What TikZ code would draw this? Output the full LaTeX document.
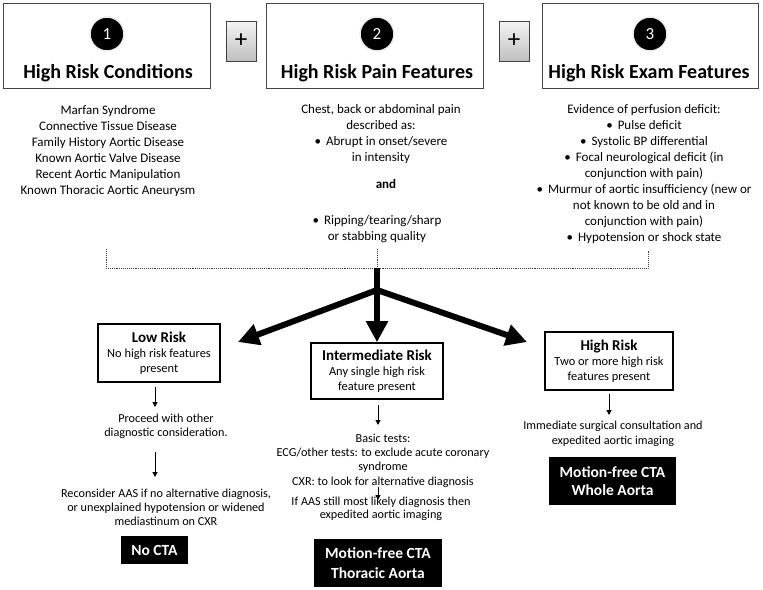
\documentclass[tikz,border=0pt]{standalone}
\usepackage{fontspec}
\setmainfont{Carlito}
\usetikzlibrary{arrows.meta}
\begin{document}
\begin{tikzpicture}[x=1pt,y=-1pt,
  topbox/.style={draw=gray!55!black, line width=1pt, inner sep=0},
  numcirc/.style={circle, fill=black, draw=gray!15, line width=1.5pt, minimum size=34pt, inner sep=0, text=white, font=\fontsize{17}{17}\selectfont},
  title/.style={anchor=base, inner sep=0, font=\fontsize{20}{20}\selectfont\bfseries},
  plusbox/.style={draw=gray!50!black, line width=0.6pt, top color=gray!8, bottom color=gray!50, minimum width=30pt, minimum height=40pt, inner sep=0, font=\fontsize{25}{25}\selectfont},
  txtA/.style={align=center, inner sep=0, anchor=north, font=\fontsize{13}{16}\selectfont},
  riskbox/.style={draw=black, line width=1.6pt, align=center, inner sep=0, font=\fontsize{12.4}{15}\selectfont},
  txtB/.style={align=center, inner sep=0, anchor=north, font=\fontsize{12.2}{14}\selectfont},
  blackbox/.style={fill=black, text=white, align=center, inner sep=0, font=\fontsize{15.5}{20}\selectfont\bfseries},
  dots/.style={densely dotted, draw=gray!50!black, line width=0.9pt},
  bigarrow/.style={line width=6pt, -{Triangle[length=21pt,width=21pt]}},
  smallarrow/.style={line width=1pt, -{Triangle[length=5pt,width=5pt]}}
]
\useasboundingbox (0,0) rectangle (763,589);

% top boxes
\node[topbox, minimum width=207pt, minimum height=85pt] (b1) at (106.5,45.5) {};
\node[topbox, minimum width=217pt, minimum height=85pt] (b2) at (374.5,45.5) {};
\node[topbox, minimum width=216pt, minimum height=85pt] (b3) at (650,45.5) {};
\node[numcirc] (n1) at (107,34) {1};
\node[numcirc] (n2) at (377,34) {2};
\node[numcirc] (n3) at (650,34) {3};
\node[title] (t1) at (108,78.4) {High Risk Conditions};
\node[title] (t2) at (377,78.4) {High Risk Pain Features};
\node[title] (t3) at (649,78.4) {High Risk Exam Features};
\node[plusbox] (p1) at (241,41) {+};
\node[plusbox] (p2) at (514,41) {+};

% feature lists
\node[txtA] (c1) at (108,103) {\strut Marfan Syndrome\\Connective Tissue Disease\\Family History Aortic Disease\\Known Aortic Valve Disease\\Recent Aortic Manipulation\\Known Thoracic Aortic Aneurysm};
\node[txtA] (c2a) at (381,102) {\strut Chest, back or abdominal pain\\described as:\\•\hspace{5pt}Abrupt in onset/severe\\in intensity};
\node[anchor=base, inner sep=0, font=\fontsize{13}{16}\selectfont\bfseries] (c2and) at (386,188.2) {and};
\node[txtA] (c2b) at (377,213) {\strut •\hspace{5pt}Ripping/tearing/sharp\\or stabbing quality};
\node[txtA] (c3) at (644,102) {\strut Evidence of perfusion deficit:\\•\hspace{5pt}Pulse deficit\\•\hspace{5pt}Systolic BP differential\\•\hspace{5pt}Focal neurological deficit (in\\conjunction with pain)\\•\hspace{5pt}Murmur of aortic insufficiency (new or\\not known to be old and in\\conjunction with pain)\\•\hspace{5pt}Hypotension or shock state};

% dotted bracket
\coordinate (dl) at (106,249);
\coordinate (dlc) at (106,268);
\coordinate (dr) at (648,250);
\coordinate (drc) at (648,268);
\coordinate (dm) at (377,249);
\coordinate (T) at (377,268);
\draw[dots] (dl) -- (dlc) -- (drc) -- (dr);
\draw[dots] (dm) -- (T);

% risk boxes
\node[riskbox, minimum width=122pt, minimum height=58pt] (low) at (159,353) {{\fontsize{15}{15}\selectfont\bfseries Low Risk}\\No high risk features\\present};
\node[riskbox, minimum width=132pt, minimum height=56pt] (mid) at (377,371) {{\fontsize{15}{15}\selectfont\bfseries Intermediate Risk}\\Any single high risk\\feature present};
\node[riskbox, minimum width=128pt, minimum height=58pt] (high) at (609,361) {{\fontsize{15}{15}\selectfont\bfseries High Risk}\\Two or more high risk\\features present};

% thick arrows
\coordinate (J) at (377,290);
\coordinate (lt) at (238,342);
\coordinate (rt) at (527,342);
\draw[bigarrow] (T) -- (mid.north);
\draw[bigarrow] (J) -- (lt);
\draw[bigarrow] (J) -- (rt);

% low branch
\node[txtB] (l1) at (166,412) {\strut Proceed with other\\diagnostic consideration.};
\node[txtB] (l2) at (166,487) {\strut Reconsider AAS if no alternative diagnosis,\\or unexplained hypotension or widened\\mediastinum on CXR};
\node[blackbox, minimum width=67pt, minimum height=28pt] (nocta) at (154.5,550) {No CTA};
\coordinate (la1) at (155,387);
\coordinate (la2) at (155,407);
\coordinate (la3) at (155,452);
\coordinate (la4) at (155,477);
\draw[smallarrow] (la1) -- (la2);
\draw[smallarrow] (la3) -- (la4);

% intermediate branch
\node[txtB, font=\fontsize{12.2}{14.3}\selectfont] (m1) at (383,432) {\strut Basic tests:\\ECG/other tests: to exclude acute coronary\\syndrome\\CXR: to look for alternative diagnosis};
\node[txtB, font=\fontsize{12.2}{13}\selectfont] (m2) at (381,496) {\strut If AAS still most likely diagnosis then\\expedited aortic imaging};
\node[blackbox, minimum width=128pt, minimum height=48pt] (thor) at (378,563) {Motion-free CTA\\Thoracic Aorta};
\coordinate (ma1) at (378,405);
\coordinate (ma2) at (378,425);
\coordinate (ma3) at (378,487);
\coordinate (ma4) at (378,500);
\draw[smallarrow] (ma1) -- (ma2);
\draw[smallarrow] (ma3) -- (ma4);

% high branch
\node[txtB, font=\fontsize{12.2}{15}\selectfont] (h1) at (613,419) {\strut Immediate surgical consultation and\\expedited aortic imaging};
\node[blackbox, minimum width=127pt, minimum height=48pt, font=\fontsize{15.5}{18.5}\selectfont\bfseries] (whole) at (612.5,481) {Motion-free CTA\\Whole Aorta};
\coordinate (ha1) at (609,394);
\coordinate (ha2) at (609,415);
\draw[smallarrow] (ha1) -- (ha2);
\end{tikzpicture}
\end{document}
